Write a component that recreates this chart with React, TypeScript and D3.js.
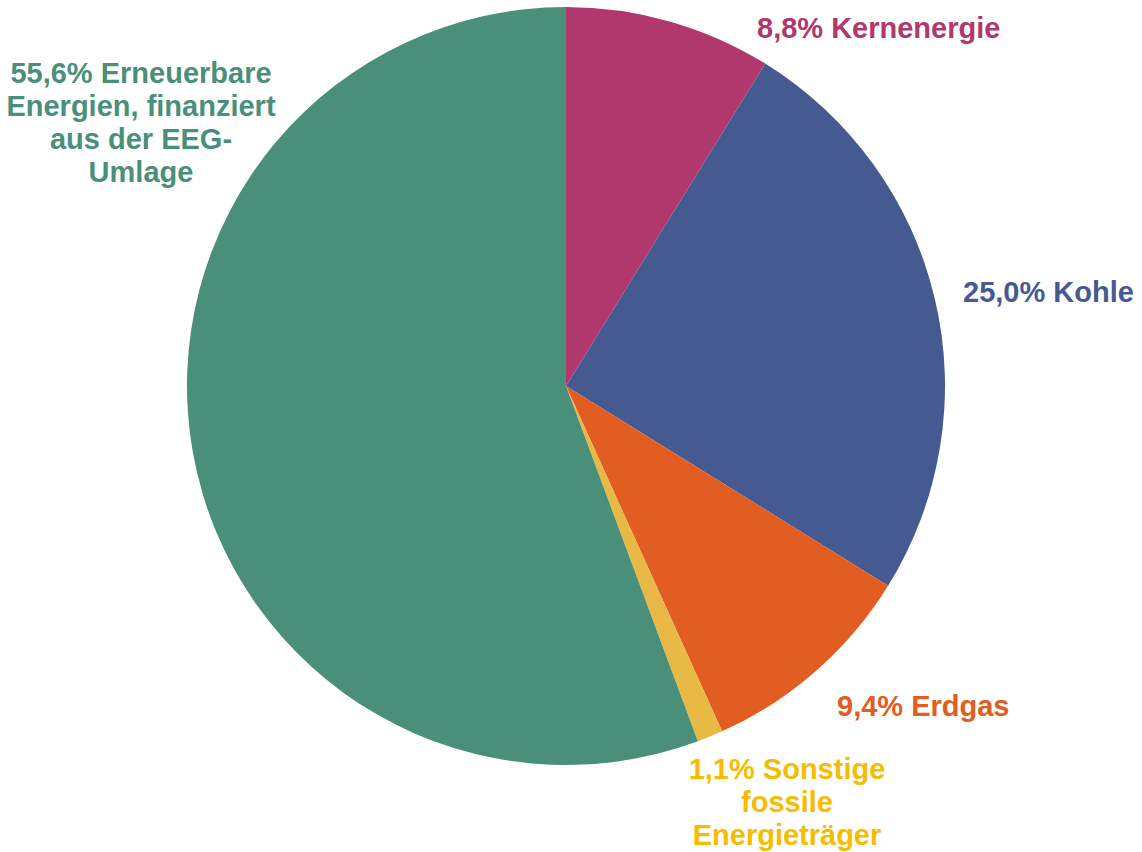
import React from "react";
import * as d3 from "d3";

const categories = [
  "Kernenergie",
  "Kohle",
  "Erdgas",
  "Sonstige fossile Energieträger",
  "Erneuerbare Energien, finanziert aus der EEG-Umlage",
];
const values = [8.8, 25.0, 9.4, 1.1, 55.6];
const sliceColors = ["#B0386C", "#465A92", "#E15D22", "#E8B945", "#4A8F7A"];
const labelColors = ["#B0386C", "#465A92", "#E15D22", "#F7BB00", "#4A8F7A"];
const labelLines = [
  ["8,8% Kernenergie"],
  ["25,0% Kohle"],
  ["9,4% Erdgas"],
  ["1,1% Sonstige", "fossile", "Energieträger"],
  ["55,6% Erneuerbare", "Energien, finanziert", "aus der EEG-", "Umlage"],
];

const W = 1142;
const H = 852;
const cx = 566;
const cy = 386;
const R = 379;
const fontSize = 29;
const lineH = 33;

// label anchor (x, first baseline, anchor)
const labelLayout: [number, number, "start" | "middle" | "end"][] = [
  [757, 38, "start"],
  [963, 302, "start"],
  [837, 716, "start"],
  [787, 779, "middle"],
  [141, 83, "middle"],
];

export default function App() {
  const pie = d3
    .pie<number>()
    .sort(null)
    .value((d) => d)(values);
  const arc = d3.arc<d3.PieArcDatum<number>>().innerRadius(0).outerRadius(R);

  return (
    <div style={{ position: "absolute", left: 0, top: 0 }}>
      <svg width={W} height={H} style={{ display: "block" }}>
        <rect width={W} height={H} fill="#fff" />
        <g transform={`translate(${cx},${cy})`}>
          {pie.map((p, i) => (
            <path key={categories[i]} d={arc(p) || ""} fill={sliceColors[i]} />
          ))}
        </g>
        {labelLines.map((lines, i) => {
          const [x, y, anchor] = labelLayout[i];
          return (
            <text
              key={categories[i]}
              x={x}
              y={y}
              textAnchor={anchor}
              fill={labelColors[i]}
              fontFamily="'Liberation Sans', Arial, sans-serif"
              fontWeight="bold"
              fontSize={fontSize}
            >
              {lines.map((l, j) => (
                <tspan key={j} x={x} y={y + j * lineH}>
                  {l}
                </tspan>
              ))}
            </text>
          );
        })}
      </svg>
    </div>
  );
}
